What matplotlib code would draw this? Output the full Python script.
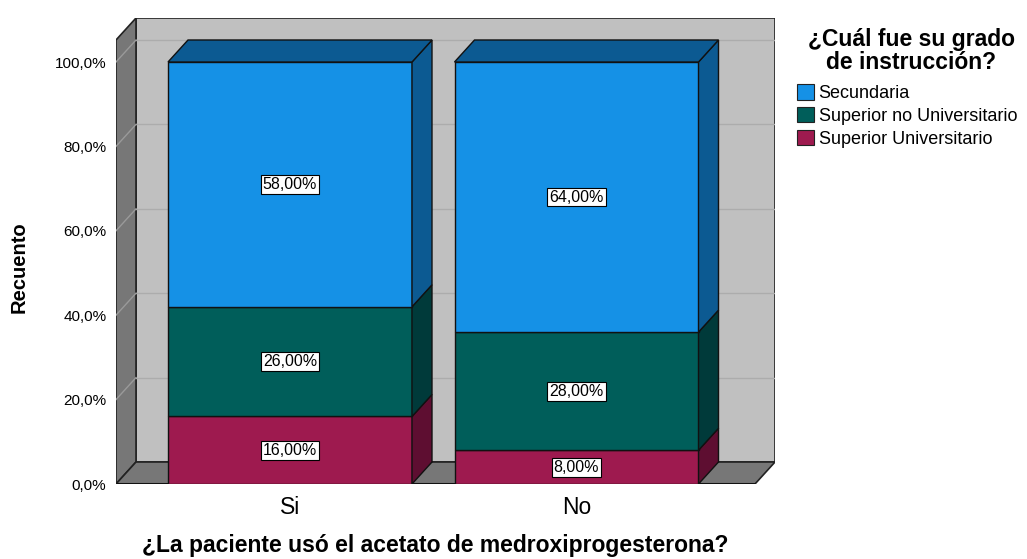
import matplotlib.pyplot as plt
import numpy as np
from matplotlib.patches import Polygon, Rectangle, Patch

plt.rcParams['font.family'] = ['Liberation Sans', 'DejaVu Sans']

# data
groups = ['Si', 'No']
categories = ['Superior Universitario', 'Superior no Universitario', 'Secundaria']
superior_univ = [16, 8]
superior_no_univ = [26, 28]
secundaria = [58, 64]
values = [superior_univ, superior_no_univ, secundaria]
yticks = [0, 20, 40, 60, 80, 100]

front_colors = ['#9E1A4F', '#005E5A', '#1591E6']
side_colors = ['#5E0E31', '#003A3A', '#0C5A92']

fig = plt.figure(figsize=(10.27, 5.59), dpi=100)
W, H = 1027, 559
# axes box in pixels: front plane 0% at y=484, back wall top at y=18
ax = fig.add_axes([116 / W, (H - 484) / H, 659 / W, 466 / H])
px_per_pct = 4.22
ymax = 466 / px_per_pct
unit_px = 286.5  # pixels between category centres
xl = -(290 - 116) / unit_px
xr = xl + 659 / unit_px
ax.set_xlim(xl, xr)
ax.set_ylim(0, ymax)

dx = 20 / unit_px     # depth offset
dy = 22 / px_per_pct
bar_w = 244 / unit_px

wall = '#C0C0C0'
dark = '#777777'

# back wall
ax.add_patch(Rectangle((xl + dx, dy), xr - xl - dx, ymax - dy, fc=wall, ec='#222222', lw=1.2, zorder=1))
# left wall
ax.add_patch(Polygon([(xl, 0), (xl + dx, dy), (xl + dx, ymax), (xl, ymax - dy)],
                     closed=True, fc=dark, ec='#222222', lw=1.2, zorder=1))
# floor
ax.add_patch(Polygon([(xl, 0), (xl + dx, dy), (xr, dy), (xr - dx, 0)],
                     closed=True, fc=dark, ec='#222222', lw=1.2, zorder=1))
ax.plot([xl, xr - dx], [0, 0], color='#111111', lw=2.2, zorder=2, solid_capstyle='butt')

# gridlines
for v in yticks[1:]:
    ax.plot([xl + dx, xr], [v + dy, v + dy], color='#ACACAC', lw=1, zorder=2)
    ax.plot([xl, xl + dx], [v, v + dy], color='#9A9A9A', lw=1, zorder=2)

# bars
x = np.arange(len(groups))
for i in x:
    x0 = i - bar_w / 2
    x1 = i + bar_w / 2
    bottom = 0
    for k in range(len(categories)):
        h = values[k][i]
        top = bottom + h
        ax.add_patch(Rectangle((x0, bottom), bar_w, h, fc=front_colors[k], ec='#111111', lw=1, zorder=3))
        ax.add_patch(Polygon([(x1, bottom), (x1 + dx, bottom + dy), (x1 + dx, top + dy), (x1, top)],
                             closed=True, fc=side_colors[k], ec='#111111', lw=1, zorder=3))
        ax.text(i, bottom + h / 2, f'{h:.2f}%'.replace('.', ','), ha='center', va='center',
                fontsize=11.5, zorder=5,
                bbox=dict(boxstyle='square,pad=0.12', fc='white', ec='black', lw=0.8))
        bottom = top
    ax.add_patch(Polygon([(x0, bottom), (x0 + dx, bottom + dy), (x1 + dx, bottom + dy), (x1, bottom)],
                         closed=True, fc=side_colors[-1], ec='#111111', lw=1, zorder=3))

for s in ax.spines.values():
    s.set_visible(False)
ax.set_yticks(yticks)
ax.set_yticklabels([f'{v:.1f}%'.replace('.', ',') for v in yticks], fontsize=11)
ax.set_xticks(x)
ax.set_xticklabels(groups, fontsize=16.5)
ax.tick_params(axis='y', length=0, pad=7)
ax.tick_params(axis='x', length=0, pad=9)

ax.set_ylabel('Recuento', fontsize=14.5, fontweight='bold')
ax.yaxis.set_label_coords(-0.132, 0.4646)
ax.set_xlabel('¿La paciente usó el acetato de medroxiprogesterona?', fontsize=16.5, fontweight='bold')
ax.xaxis.set_label_coords(0.484, -0.108)

# legend title as its own text so it can be centred over the entries
fig.text(911 / W, 1 - 51 / H, '¿Cuál fue su grado\nde instrucción?', ha='center', va='center',
         multialignment='center', linespacing=0.95, fontsize=16.5, fontweight='bold')
handles = [Patch(fc=front_colors[k], ec='#222222', lw=0.8) for k in [2, 1, 0]]
leg = fig.legend(handles, [categories[k] for k in [2, 1, 0]],
                 loc='upper left', bbox_to_anchor=(788 / W, 1 - 75 / H),
                 frameon=False, fontsize=13, handlelength=0.95, handleheight=0.95,
                 handletextpad=0.25, labelspacing=0.27, borderpad=0)

fig.savefig('out.png', dpi=100)
